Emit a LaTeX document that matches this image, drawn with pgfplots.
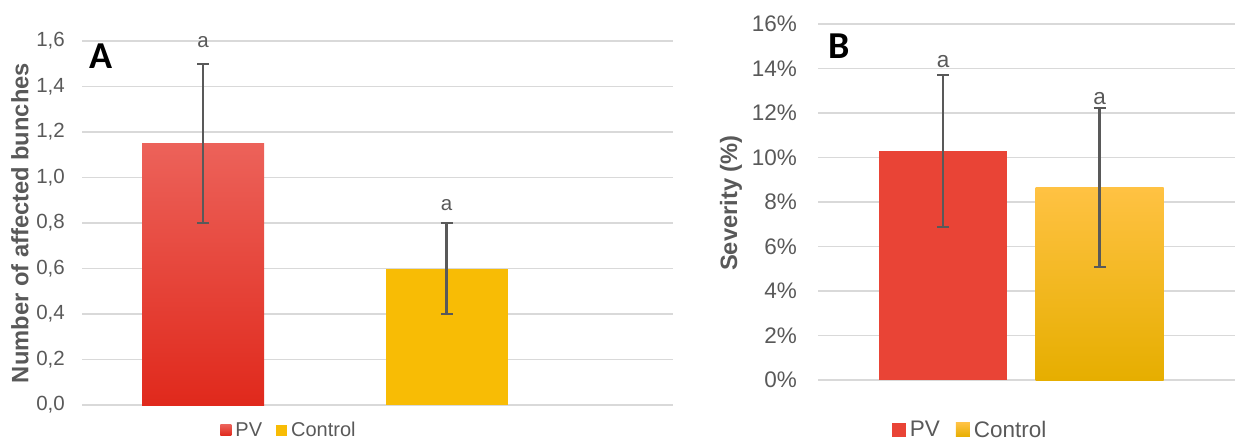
\documentclass[border=0pt]{standalone}
\usepackage{fontspec}
\setmainfont{Liberation Sans}
\newfontfamily\carlito{Carlito}
\usepackage{pgfplots}
\pgfplotsset{compat=1.18}

\definecolor{txt}{HTML}{595959}
\definecolor{gridc}{HTML}{D9D9D9}
\definecolor{pvTop}{HTML}{EC625A}
\definecolor{pvBot}{HTML}{E0291C}
\definecolor{pvFlat}{HTML}{E94436}
\definecolor{ctlFlat}{HTML}{F8BC05}
\definecolor{ctlTop}{HTML}{FFC243}
\definecolor{ctlMid}{HTML}{FFC000}
\definecolor{ctlBot}{HTML}{E6AE00}

\pgfplotsset{
  panel/.style={
    scale only axis, anchor=south west,
    ybar, bar shift=0pt,
    axis line style={draw=none},
    tick style={draw=none},
    major tick length=0pt,
    xtick=\empty,
    ymajorgrids,
    major grid style={gridc, line width=1.6pt},
    ticklabel style={text=txt},
    yticklabel style={anchor=east, inner sep=0pt},
    /pgf/number format/assume math mode=true,
    clip=false,
    legend style={draw=none, fill=none, legend columns=-1, inner sep=0pt,
      anchor=center, text=txt, nodes={inner xsep=4pt}},
  },
  % error bars with horizontal caps
  errs/.style={
    error bars/y dir=both,
    error bars/y explicit,
    error bars/error bar style={line width=2.2pt, draw=txt, solid},
    error bars/error mark options={rotate=90, mark size=6pt, line width=2.2pt, draw=txt},
  },
}

\begin{document}
\begin{tikzpicture}[x=1pt,y=1pt]
\useasboundingbox (0,0) rectangle (1235,440);

% Panel A: number of affected bunches
\begin{axis}[panel,
  at={(82pt,35pt)}, width=591pt, height=364pt,
  xmin=82, xmax=673, ymin=0, ymax=1.6,
  ytick={0,0.2,0.4,0.6,0.8,1.0,1.2,1.4,1.6},
  yticklabel style={xshift=-17pt, font=\fontsize{20.5}{24}\selectfont,
    /pgf/number format/.cd, fixed, fixed zerofill, precision=1, use comma},
  ylabel={Number of affected bunches},
  ylabel style={at={(axis description cs:-0.105,0.5)}, anchor=center,
    font=\bfseries\fontsize{23.7}{28}\selectfont, text=txt},
  legend style={at={(axis description cs:0.352,-0.0687)},
    font=\fontsize{20}{24}\selectfont,
    /tikz/every even column/.append style={column sep=10pt}},
  bar width=122pt,
]
\addplot[draw=none, top color=pvTop, bottom color=pvBot, errs,
  legend image code/.code={\path[top color=pvTop, bottom color=pvBot] (0pt,-5.5pt) rectangle (11pt,5.5pt);}]
  coordinates {(203,1.15) +- (0,0.35)};
\addlegendentry{PV}
\addplot[draw=none, fill=ctlFlat, errs,
  legend image code/.code={\path[fill=ctlFlat] (0pt,-5.5pt) rectangle (11pt,5.5pt);}]
  coordinates {(446.5,0.60) +- (0,0.20)};
\addlegendentry{Control}
\node[text=txt, font=\fontsize{20.5}{24}\selectfont] at (axis cs:203,1.597) {a};
\node[text=txt, font=\fontsize{20.5}{24}\selectfont] at (axis cs:446.5,0.879) {a};
\end{axis}

% Panel B: severity
\begin{axis}[panel,
  at={(818pt,60pt)}, width=417pt, height=356pt,
  xmin=818, xmax=1235, ymin=0, ymax=16,
  ytick={0,2,4,6,8,10,12,14,16},
  yticklabel={\pgfmathprintnumber{\tick}\%},
  yticklabel style={xshift=-21pt, font=\fontsize{22.5}{26}\selectfont},
  ylabel={Severity (\%)},
  ylabel style={at={(axis description cs:-0.2086,0.497)}, anchor=center,
    font=\bfseries\fontsize{23.7}{28}\selectfont, text=txt},
  legend style={at={(axis description cs:0.367,-0.1404)},
    font=\fontsize{22.5}{26}\selectfont,
    /tikz/every even column/.append style={column sep=12pt}},
  bar width=128pt,
]
\addplot[draw=none, fill=pvFlat, errs,
  legend image code/.code={\path[fill=pvFlat] (0pt,-7pt) rectangle (14pt,7pt);}]
  coordinates {(943,10.3) +- (0,3.42)};
\addlegendentry{PV}
\addplot[draw=none, top color=ctlTop, middle color=ctlMid, bottom color=ctlBot, errs,
  legend image code/.code={\path[top color=ctlTop, middle color=ctlMid, bottom color=ctlBot] (0pt,-7pt) rectangle (14pt,7pt);}]
  coordinates {(1099.5,8.66) +- (0,3.57)};
\addlegendentry{Control}
\node[text=txt, font=\fontsize{22.5}{26}\selectfont] at (axis cs:943,14.29) {a};
\node[text=txt, font=\fontsize{22.5}{26}\selectfont] at (axis cs:1099.5,12.67) {a};
\end{axis}

% Panel letters
\node[font=\carlito\bfseries\fontsize{38}{40}\selectfont, inner sep=0pt] at (101,384) {A};
\node[font=\carlito\bfseries\fontsize{38}{40}\selectfont, inner sep=0pt] at (839,394) {B};
\end{tikzpicture}
\end{document}
